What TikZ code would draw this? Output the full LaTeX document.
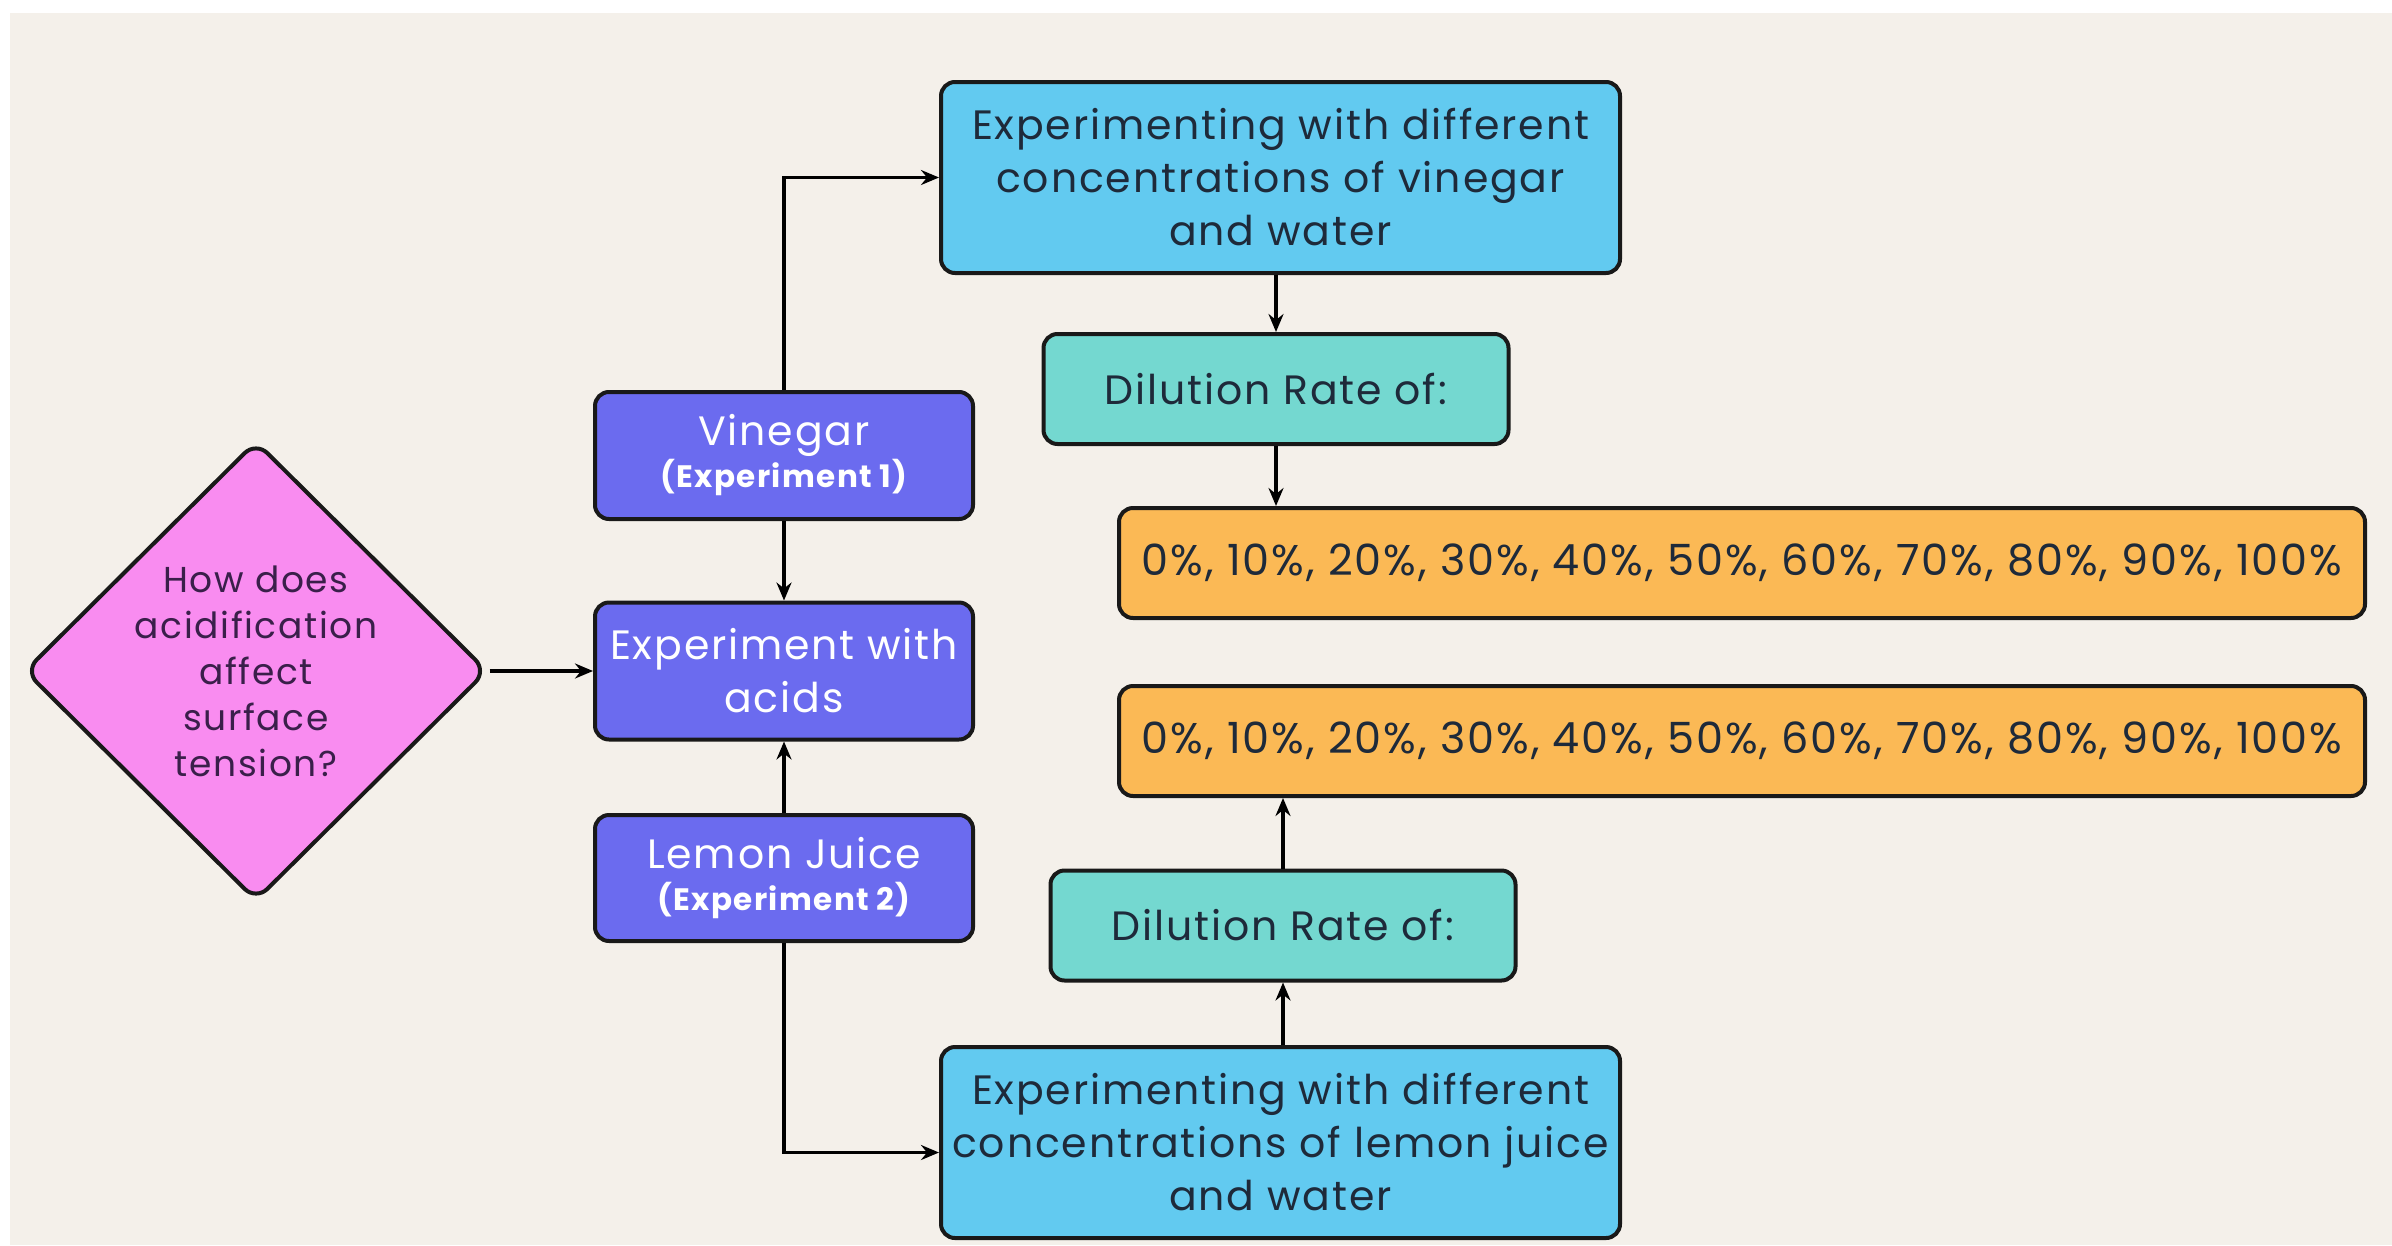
\documentclass[tikz,border=0pt]{standalone}
\usepackage{fontspec}
\setmainfont{Poppins}[LetterSpace=4.5]
\usetikzlibrary{arrows.meta,shapes.geometric}
\definecolor{bgbeige}{HTML}{F4F0EA}
\definecolor{skyblue}{HTML}{62CAF0}
\definecolor{tealbox}{HTML}{74D8D0}
\definecolor{orangebox}{HTML}{FBB955}
\definecolor{purplebox}{HTML}{6B6BEF}
\definecolor{pinkbox}{HTML}{F98CF0}
\definecolor{darktext}{HTML}{1E2A3A}
\definecolor{diatext}{HTML}{3A1F4A}
\tikzset{
  boxbase/.style={draw=black!90, line width=4pt, rounded corners=14pt, inner sep=0pt, align=center},
  bluebox/.style={boxbase, fill=skyblue, text=darktext, minimum width=679pt, minimum height=191pt,
    font=\fontsize{41}{53}\selectfont},
  dilbox/.style={boxbase, fill=tealbox, text=darktext, minimum width=465pt, minimum height=110pt,
    font=\fontsize{41}{53}\selectfont},
  pctbox/.style={boxbase, fill=orangebox, text=darktext, minimum width=1246pt, minimum height=110pt,
    font=\fontsize{43}{53}\selectfont},
  purbox/.style={boxbase, fill=purplebox, text=white, minimum width=378pt,
    font=\fontsize{41}{53}\selectfont},
  diabox/.style={diamond, draw=black!90, line width=4pt, fill=pinkbox, rounded corners=16pt,
    minimum width=463pt, minimum height=460pt, inner sep=0pt, aspect=1},
  diatxt/.style={align=center, text=diatext, font=\fontsize{36}{46}\selectfont},
  arr/.style={line width=3.5pt, -{Stealth[length=18pt,width=15pt,inset=6pt]}}
}
\begin{document}
\begin{tikzpicture}[x=1pt,y=-1pt]
\useasboundingbox (0,0) rectangle (2392,1245);
\fill[white] (0,0) rectangle (2392,1245);
\fill[bgbeige] (10,13) rectangle (2392,1245);

\node[bluebox] (topblue) at (1280.5,177.5) {Experimenting with different\\concentrations of vinegar\\and water};
\node[dilbox] (dil1) at (1276,389) {Dilution Rate of:};
\node[pctbox] (or1) at (1742,563) {0\%, 10\%, 20\%, 30\%, 40\%, 50\%, 60\%, 70\%, 80\%, 90\%, 100\%};

\node[purbox, minimum height=127pt] (vin) at (784,455.5) {\raisebox{-5pt}{Vinegar}\\[-6pt]{\fontsize{31}{36}\selectfont\bfseries (Experiment 1)}};
\node[purbox, minimum height=137pt] (acids) at (784,671) {Experiment with\\acids};
\node[purbox, minimum height=126pt] (lemon) at (784,878) {\raisebox{-5pt}{Lemon Juice}\\[-6pt]{\fontsize{31}{36}\selectfont\bfseries (Experiment 2)}};

\node[diabox] (q) at (256,671) {};
\node[diatxt] (qtext) at (256,671) {How does\\acidification\\affect\\surface\\tension?};

\node[pctbox] (or2) at (1742,741) {0\%, 10\%, 20\%, 30\%, 40\%, 50\%, 60\%, 70\%, 80\%, 90\%, 100\%};
\node[dilbox] (dil2) at (1283,925.5) {Dilution Rate of:};
\node[bluebox] (botblue) at (1280.5,1142.5) {Experimenting with different\\concentrations of lemon juice\\and water};

\draw[arr] (vin.north) |- (topblue.west);
\draw[arr] (vin.south) -- (acids.north);
\draw[arr] (lemon.north) -- (acids.south);
\draw[arr] (q.east) -- (acids.west);
\draw[arr] (lemon.south) |- ([yshift=-10pt]botblue.west);
\draw[arr] (topblue.south -| dil1.north) -- (dil1.north);
\draw[arr] (dil1.south) -- (dil1.south |- or1.north);
\draw[arr] (dil2.south |- botblue.north) -- (dil2.south);
\draw[arr] (dil2.north) -- (dil2.north |- or2.south);
\end{tikzpicture}
\end{document}
